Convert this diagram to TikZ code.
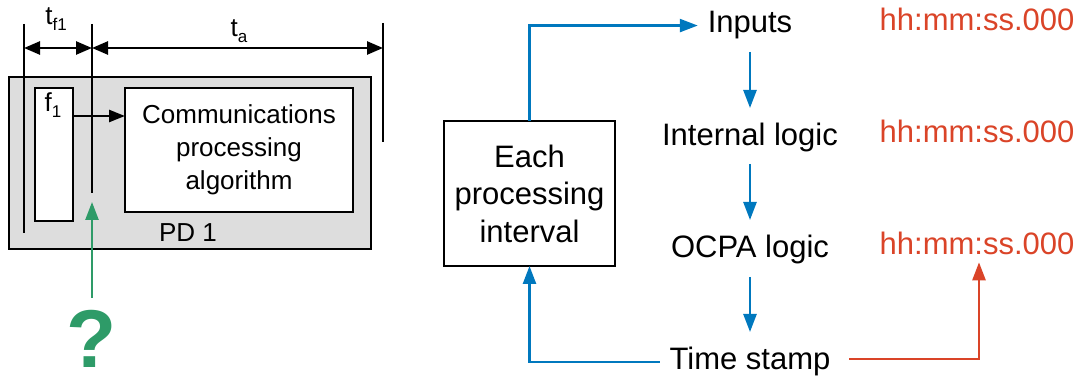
\documentclass[tikz,border=0pt]{standalone}
\usepackage{fontspec}
\setmainfont{Liberation Sans}
\usetikzlibrary{arrows.meta,calc}
\definecolor{flowblue}{RGB}{0,120,190}
\definecolor{stampred}{RGB}{218,68,40}
\definecolor{askgreen}{RGB}{46,155,104}
\definecolor{pdgray}{RGB}{221,221,221}
\newcommand\lowtext[1]{\raisebox{-0.22em}{\fontsize{17}{17}\selectfont #1}}
\begin{document}
\begin{tikzpicture}[x=1pt,y=-1pt,
  every node/.style={inner sep=0pt, outer sep=0pt},
  box/.style={draw=black, line width=2.5pt, fill=white},
  lbl/.style={font=\fontsize{26}{33}\selectfont, align=center},
  big/.style={font=\fontsize{31}{37.5}\selectfont, align=center},
  rowtext/.style={font=\fontsize{31}{37}\selectfont, anchor=base},
  stamp/.style={font=\fontsize{31}{37}\selectfont, text=stampred, anchor=base},
  bline/.style={draw=flowblue, line width=2.5pt, -{Triangle[length=18pt,width=13pt]}},
  rline/.style={draw=stampred, line width=2.5pt, -{Triangle[length=18pt,width=13pt]}},
  gline/.style={draw=askgreen, line width=2.5pt, -{Triangle[length=18pt,width=13pt]}},
  dimline/.style={line width=2.5pt, {Triangle[length=16pt,width=13pt]}-{Triangle[length=16pt,width=13pt]}},
  kline/.style={line width=2.5pt, -{Triangle[length=16pt,width=12pt]}},
  tickline/.style={line width=2.5pt}
]
\useasboundingbox (0,0) rectangle (1085,379);

% ---------- processing device ----------
\node[box, fill=pdgray, minimum width=362pt, minimum height=172pt] (pd) at (190,163) {};
\node[box, minimum width=38pt, minimum height=133pt] (f1) at (54,154.5) {};
\node[box, lbl, minimum width=228pt, minimum height=124pt] (comm) at (239,150)
  {Communications\\processing\\algorithm};
\node[lbl, anchor=base] (pdlbl) at (188,242) {PD 1};
\node[lbl, anchor=base] (f1lbl) at (53,112) {f\lowtext{1}};

\coordinate (fy) at (0,116);
\draw[kline] (f1.east |- fy) -- (comm.west |- fy);

% ---------- timing dimensions ----------
\coordinate (d0top) at (24,24);  \coordinate (d0bot) at (24,233);
\coordinate (d1top) at (92,24);  \coordinate (d1bot) at (92,193);
\coordinate (d2top) at (383,23); \coordinate (d2bot) at (383,142);
\draw[tickline] (d0top) -- (d0bot);
\draw[tickline] (d1top) -- (d1bot);
\draw[tickline] (d2top) -- (d2bot);
\coordinate (a0) at (24,48); \coordinate (a1) at (92,48); \coordinate (a2) at (383,48);
\draw[dimline] (a0) -- (a1);
\draw[dimline] (a1) -- (a2);
\node[lbl, anchor=base] (tf1) at (56,25) {t\lowtext{f1}};
\node[lbl, anchor=base] (ta) at (239,37) {t\lowtext{a}};

% ---------- open question ----------
\node[font=\fontsize{82}{84}\selectfont\bfseries, text=askgreen, anchor=base] (ask) at (92,368) {?};
\coordinate (qtop) at (92,298);
\draw[gline] (qtop) -- ($(d1bot)+(0,9)$);

% ---------- processing loop ----------
\node[box, big, minimum width=171pt, minimum height=145pt] (each) at (529.5,193.5)
  {Each\\processing\\interval};
\node[rowtext] (inp)  at (750,33)  {Inputs};
\node[rowtext] (il)   at (750,146) {Internal logic};
\node[rowtext] (ocpa) at (750,258) {OCPA logic};
\node[rowtext] (ts)   at (750,370) {Time stamp};

\node[stamp] (t1) at (977,31)  {hh:mm:ss.000};
\node[stamp] (t2) at (977,143) {hh:mm:ss.000};
\node[stamp] (t3) at (977,255) {hh:mm:ss.000};

\draw[bline] ($(inp.base)+(0,19)$)  -- ($(il.base)-(0,38)$);
\draw[bline] ($(il.base)+(0,18)$)   -- ($(ocpa.base)-(0,38)$);
\draw[bline] ($(ocpa.base)+(0,19)$) -- ($(ts.base)-(0,38)$);

\draw[bline] (each.north) |- ($(inp.west)-(10,0)$);
\draw[bline] ($(ts.west)-(10,0)$) -| (each.south);
\draw[rline] ($(ts.east)+(19,-3)$) -| ($(t3.south)+(2,7)$);
\end{tikzpicture}
\end{document}
